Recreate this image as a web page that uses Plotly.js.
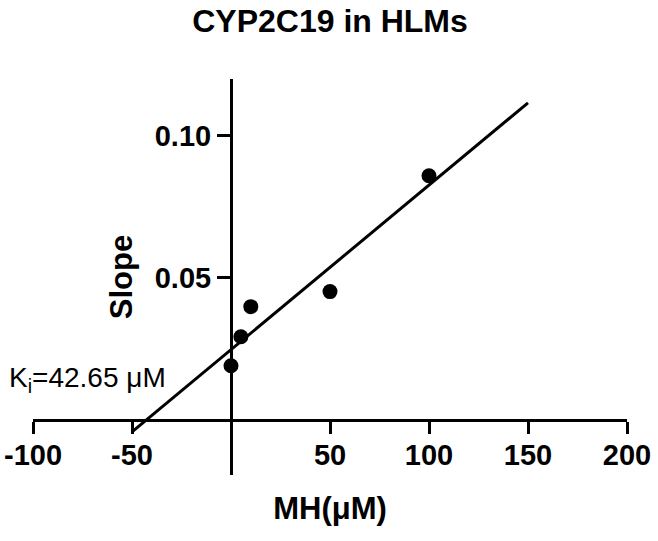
<!DOCTYPE html>
<html>
<head>
<meta charset="utf-8">
<script src="https://cdn.plot.ly/plotly-3.0.1.min.js"></script>
<style>
  html, body { margin: 0; padding: 0; background: #fff; }
  #chart { width: 658px; height: 541px; }
</style>
</head>
<body>
<div id="chart"></div>
<script>
// measured points
var mhConc = [0, 5, 10, 50, 100];
var slopeVals = [0.019, 0.0292, 0.0398, 0.0451, 0.0859];

// fitted line, read at its two ends
var fitX = [-50, 150];
var fitY = [-0.0043, 0.1116];

var xTicks = [-100, -50, 50, 100, 150, 200];
var xTickText = ["-100", "-50", "50", "100", "150", "200"];
var yTicks = [0.05, 0.10];
var yTickText = ["0.05", "0.10"];

var xRange = [-100, 200];
var yRange = [-0.0195, 0.12];

var FONT = "Liberation Sans, Arial, Helvetica, sans-serif";

var CHART = document.getElementById("chart");

var data = [
    {
        x: fitX,
        y: fitY,
        mode: "lines",
        type: "scatter",
        line: { color: "#000", width: 3 },
        hoverinfo: "skip"
    },
    {
        x: mhConc,
        y: slopeVals,
        mode: "markers",
        type: "scatter",
        marker: { color: "#000", size: 15 }
    }
];

var layout = {
    width: 658,
    height: 541,
    margin: { l: 33, r: 31, t: 79, b: 66 },
    paper_bgcolor: "#fff",
    plot_bgcolor: "#fff",
    showlegend: false,
    font: { family: FONT, color: "#000" },
    title: {
        text: "<b>CYP2C19 in HLMs</b>",
        font: { size: 32, family: FONT, color: "#000" },
        x: 0.5,
        xref: "paper",
        y: 1 - 21 / 541,
        yanchor: "middle"
    },
    xaxis: {
        range: xRange,
        domain: [0, 1],
        anchor: "free",
        // x axis sits at y = 0
        position: (0 - yRange[0]) / (yRange[1] - yRange[0]),
        showgrid: false,
        zeroline: false,
        showline: true,
        linecolor: "#000",
        linewidth: 3,
        ticks: "outside",
        ticklen: 12,
        tickwidth: 3,
        tickcolor: "#000",
        tickvals: xTicks,
        ticktext: xTickText,
        ticklabelstandoff: -3,
        tickfont: { size: 29, family: FONT, weight: "bold" },
        title: {
            text: "<b>MH(μM)</b>",
            font: { size: 31, family: FONT },
            standoff: 26
        }
    },
    yaxis: {
        range: yRange,
        domain: [0, 1],
        anchor: "free",
        // y axis sits at x = 0
        position: (0 - xRange[0]) / (xRange[1] - xRange[0]),
        showgrid: false,
        zeroline: false,
        showline: true,
        linecolor: "#000",
        linewidth: 3,
        ticks: "outside",
        ticklen: 13,
        tickwidth: 3,
        tickcolor: "#000",
        tickvals: yTicks,
        ticktext: yTickText,
        tickfont: { size: 29, family: FONT, weight: "bold" },
        title: {
            text: "<b>Slope</b>",
            font: { size: 31, family: FONT },
            standoff: 11
        }
    },
    annotations: [
        {
            x: (7 - 33) / 594,
            y: 0.0141,
            xref: "paper",
            yref: "y",
            xanchor: "left",
            yanchor: "middle",
            showarrow: false,
            text: "K<sub>i</sub>=42.65 μM",
            font: { size: 28, family: FONT, color: "#000" }
        }
    ]
};

var config = { responsive: false, displayModeBar: false, staticPlot: true };
Plotly.newPlot(CHART, data, layout, config);
</script>
</body>
</html>
